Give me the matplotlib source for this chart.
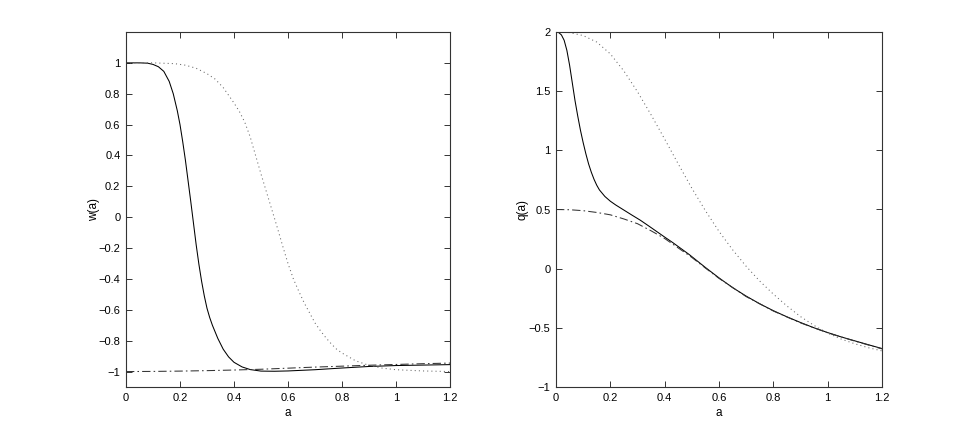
import matplotlib
matplotlib.use("Agg")
import matplotlib.pyplot as plt
from matplotlib.ticker import FuncFormatter

plt.rcParams['font.family'] = ['Liberation Sans', 'DejaVu Sans']
plt.rcParams['axes.unicode_minus'] = True

# ---- left panel: w(a) ----
a_w_solid = [0, 0.05, 0.08, 0.10, 0.12, 0.14, 0.16, 0.175, 0.19, 0.20, 0.21, 0.22, 0.23, 0.24,
             0.25, 0.26, 0.27, 0.28, 0.29, 0.30, 0.31, 0.32, 0.34, 0.36, 0.38, 0.40, 0.43, 0.46,
             0.50, 0.55, 0.60, 0.70, 0.80, 0.90, 1.00, 1.10, 1.20]
w_solid = [1.0, 1.0, 0.998, 0.99, 0.975, 0.945, 0.88, 0.80, 0.69, 0.60, 0.49, 0.37, 0.235, 0.10,
           -0.04, -0.18, -0.305, -0.415, -0.51, -0.59, -0.65, -0.70, -0.785, -0.855, -0.905, -0.94,
           -0.97, -0.987, -0.997, -0.998, -0.996, -0.988, -0.977, -0.967, -0.961, -0.958, -0.955]

a_w_dot = [0, 0.10, 0.18, 0.22, 0.26, 0.30, 0.33, 0.36, 0.38, 0.40, 0.42, 0.44, 0.46, 0.48,
           0.50, 0.52, 0.54, 0.56, 0.58, 0.60, 0.62, 0.64, 0.66, 0.68, 0.70, 0.72, 0.74, 0.76,
           0.78, 0.80, 0.85, 0.90, 0.95, 1.00, 1.10, 1.20]
w_dot = [1.0, 1.0, 0.995, 0.985, 0.965, 0.93, 0.895, 0.84, 0.79, 0.74, 0.685, 0.615, 0.52, 0.40,
         0.28, 0.165, 0.05, -0.065, -0.185, -0.30, -0.40, -0.48, -0.555, -0.62, -0.685, -0.735,
         -0.78, -0.82, -0.855, -0.88, -0.93, -0.96, -0.978, -0.988, -0.996, -1.0]

a_w_dd = [0, 0.1, 0.2, 0.3, 0.4, 0.5, 0.6, 0.7, 0.8, 0.9, 1.0, 1.1, 1.2]
w_dd = [-1.0, -0.999, -0.997, -0.994, -0.99, -0.985, -0.978, -0.971, -0.965, -0.959, -0.954, -0.949, -0.945]

# ---- right panel: q(a) ----
a_q_solid = [0, 0.01, 0.02, 0.03, 0.04, 0.05, 0.06, 0.07, 0.08, 0.09, 0.10, 0.11, 0.12, 0.13,
             0.14, 0.15, 0.16, 0.18, 0.20, 0.22, 0.25, 0.28, 0.31, 0.34, 0.37, 0.40, 0.43,
             0.46, 0.49, 0.52, 0.55, 0.60, 0.65, 0.70, 0.75, 0.80, 0.85, 0.90, 0.95, 1.00,
             1.05, 1.10, 1.15, 1.20]
q_solid = [2.0, 1.995, 1.975, 1.93, 1.845, 1.72, 1.57, 1.42, 1.29, 1.17, 1.065, 0.97, 0.885, 0.815,
           0.755, 0.705, 0.665, 0.61, 0.57, 0.538, 0.495, 0.452, 0.41, 0.363, 0.315, 0.267, 0.22,
           0.17, 0.12, 0.065, 0.01, -0.078, -0.16, -0.232, -0.297, -0.355, -0.407, -0.455, -0.50,
           -0.54, -0.577, -0.61, -0.643, -0.675]

a_q_dot = [0, 0.05, 0.10, 0.15, 0.20, 0.25, 0.30, 0.35, 0.40, 0.45, 0.50, 0.55, 0.60, 0.65,
           0.70, 0.75, 0.80, 0.85, 0.90, 0.95, 1.00, 1.05, 1.10, 1.15, 1.20]
q_dot = [2.0, 1.995, 1.97, 1.915, 1.815, 1.67, 1.495, 1.30, 1.095, 0.885, 0.68, 0.49, 0.315, 0.16,
         0.02, -0.105, -0.215, -0.315, -0.405, -0.48, -0.545, -0.595, -0.635, -0.668, -0.695]

a_q_dd = [0, 0.05, 0.10, 0.15, 0.20, 0.25, 0.30, 0.35, 0.40, 0.45, 0.50, 0.55, 0.60, 0.70,
          0.80, 0.90, 1.00, 1.10, 1.20]
q_dd = [0.5, 0.498, 0.49, 0.475, 0.455, 0.42, 0.38, 0.32, 0.255, 0.175, 0.095, 0.005, -0.082, -0.236,
        -0.358, -0.458, -0.542, -0.612, -0.678]

x_ticks = [0, 0.2, 0.4, 0.6, 0.8, 1.0, 1.2]
w_ticks = [-1, -0.8, -0.6, -0.4, -0.2, 0, 0.2, 0.4, 0.6, 0.8, 1]
q_ticks = [-1, -0.5, 0, 0.5, 1, 1.5, 2]

fmt = FuncFormatter(lambda v, p: ('%g' % round(v, 6)).replace('-', '\u2212'))

fig = plt.figure(figsize=(9.75, 4.36), dpi=100)
ax1 = fig.add_axes([126/975, 49/436, 324/975, 355/436])
ax2 = fig.add_axes([556/975, 49/436, 326/975, 355/436])

lw = 0.75
for ax in (ax1, ax2):
    for s in ax.spines.values():
        s.set_linewidth(0.8)
        s.set_color('#333333')
    ax.tick_params(direction='in', top=True, right=True, length=4, width=0.7,
                   labelsize=8, colors='#333333', labelcolor='black', pad=4)
    ax.xaxis.set_major_formatter(fmt)
    ax.yaxis.set_major_formatter(fmt)
    ax.set_xlim(0, 1.2)
    ax.set_xticks(x_ticks)
    ax.set_xlabel('a', fontsize=8.5, labelpad=3)

ax1.plot(a_w_solid, w_solid, color='black', lw=lw, ls='-')
ax1.plot(a_w_dot, w_dot, color='#666666', lw=lw, ls=(0, (1, 3)))
ax1.plot(a_w_dd, w_dd, color='#333333', lw=lw, ls=(0, (8, 3, 1.5, 3)))
ax1.set_ylim(-1.1, 1.2)
ax1.set_yticks(w_ticks)
ax1.set_ylabel('w(a)', fontsize=8.5, labelpad=-1)

ax2.plot(a_q_solid, q_solid, color='black', lw=lw, ls='-')
ax2.plot(a_q_dot, q_dot, color='#666666', lw=lw, ls=(0, (1, 3)))
ax2.plot(a_q_dd, q_dd, color='#333333', lw=lw, ls=(0, (8, 3, 1.5, 3)))
ax2.set_ylim(-1, 2)
ax2.set_yticks(q_ticks)
ax2.set_ylabel('q(a)', fontsize=8.5, labelpad=0)

fig.savefig('out.png', dpi=100)
